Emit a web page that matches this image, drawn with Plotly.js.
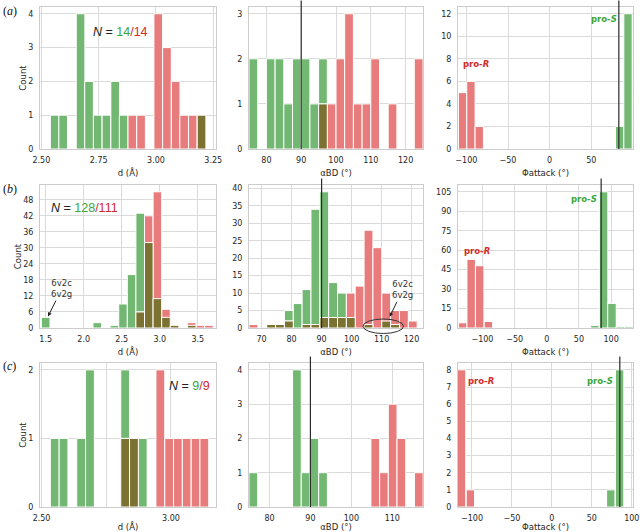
<!DOCTYPE html>
<html><head><meta charset="utf-8">
<script src="https://cdn.plot.ly/plotly-3.0.1.min.js"></script>
<style>html,body{margin:0;padding:0;background:#fff}#chart{width:640px;height:532px}</style>
</head><body><div id="chart"></div>
<script>
// ================= DATA =================
// Row (a)
const a1_bins  = [2.558,2.595,2.633,2.671,2.708,2.746,2.784,2.822,2.859,2.897,2.935,2.972,3.010,3.048,3.086,3.123,3.161,3.199];
const a1_green = [1,1,0,4,2,1,1,2,1,0,0,0,0,0,0,0,0,1];
const a1_red   = [0,0,0,0,0,0,0,0,0,1,1,0,4,3,2,1,1,1];

const a2_bins  = [76.25,78.75,81.25,83.75,86.25,88.75,91.25,93.75,96.25,98.75,101.25,103.75,106.25,108.75,111.25,113.75,116.25,118.75,121.25,123.75];
const a2_green = [2,0,2,2,1,2,2,1,2,0,0,0,0,0,0,0,0,0,0,0];
const a2_red   = [0,0,0,0,0,0,0,0,1,1,2,3,1,1,2,0,1,0,0,2];

const a3_red_bins   = [-104.5,-94.5,-84.5];
const a3_red        = [5,6,2];
const a3_green_bins = [84,94];
const a3_green      = [2,12];

// Row (b)
const b1_bins  = [1.500,1.613,1.726,1.839,1.952,2.065,2.178,2.291,2.404,2.517,2.630,2.743,2.856,2.969,3.082,3.195,3.308,3.421,3.534,3.647];
const b1_green = [4,0,0,0,0,0,2,0,1,9,20,43,32,11,4,1,0,1,0,0];
const b1_red   = [0,0,0,0,0,0,0,0,0,0,0,6,42,51,7,1,0,2,1,1];

const b2_bins  = [67.28,70.23,73.18,76.13,79.08,82.03,84.98,87.93,90.88,93.83,96.78,99.73,102.68,105.63,108.58,111.53,114.48,117.43,120.38];
const b2_green = [0,0,1,1,5,7,11,34,39,13,10,3,0,1,0,2,1,0,0];
const b2_red   = [1,0,1,1,2,0,1,1,3,3,3,10,12,28,23,10,5,5,2];

const b3_red_bins   = [-130.5,-117.5,-104.3,-90.7];
const b3_red        = [4,53,48,5];
const b3_green_bins = [74.8,88.3,101.3,114.3,127.4];
const b3_green      = [2,105,19,1,1];

// Row (c)
const c1_bins  = [2.551,2.585,2.619,2.653,2.687,2.721,2.755,2.789,2.823,2.857,2.891,2.925,2.959,2.993,3.027,3.061,3.095,3.129];
const c1_green = [1,1,0,1,2,0,0,0,2,1,1,0,0,0,0,0,0,0];
const c1_red   = [0,0,0,0,0,0,0,0,1,1,0,0,2,1,1,1,1,1];

const c2_bins  = [76.06,78.19,80.32,82.44,84.57,86.70,88.82,90.95,93.08,95.20,97.33,99.46,101.59,103.71,105.84,107.97,110.09,112.22,114.35,116.47];
const c2_green = [1,0,0,0,0,4,1,2,1,0,0,0,0,0,0,0,0,0,0,0];
const c2_red   = [0,0,0,0,0,0,0,0,0,0,0,0,0,0,2,1,3,2,0,1];

const c3_red_bins   = [-113,-102];
const c3_red        = [8,1];
const c3_green_bins = [73.7,84.8];
const c3_green      = [1,8];

// reference lines
const refAlpha = [90, 90, 90];
const refPhi   = [83, 84.5, 85];

// tick labels
const dTicksA = [2.50,2.75,3.00,3.25], dTextA = ['2.50','2.75','3.00','3.25'];
const dTicksB = [1.5,2.0,2.5,3.0,3.5],  dTextB = ['1.5','2.0','2.5','3.0','3.5'];
const dTicksC = [2.50,2.75,3.00],       dTextC = ['2.50','','3.00'];

// ================= STYLE =================
const GREEN = '#72b872', RED = '#e87b7b', OLIVE = '#7b7232';
const TGREEN = '#3aa63a', TRED = '#d42a2a';
const FONT = 'DejaVu Sans, sans-serif';
const W = 640, H = 532;
const px = x => x / W, py = y => 1 - y / H;
const colX = [[40,216],[249,423],[458,633]];
const rowY = [[7,149],[185,328],[363,507]];

const traces = [];
function nz(a){ return a.map(v => v === 0 ? null : v); }
function bar(n, x, y, w, color){
  traces.push({type:'bar', x:x, y:nz(y), width:w, marker:{color:color, line:{color:'white', width:1}},
    xaxis: n===1?'x':'x'+n, yaxis: n===1?'y':'y'+n, hoverinfo:'skip', showlegend:false});
}
function common(n, bins, g, r, w){
  bar(n, bins, g, w, GREEN);
  bar(n, bins, r, w, RED);
  bar(n, bins, g.map((v,i)=>Math.min(v, r[i])), w, OLIVE);
}
common(1, a1_bins, a1_green, a1_red, 0.0377);
common(2, a2_bins, a2_green, a2_red, 2.5);
bar(3, a3_red_bins, a3_red, 10, RED); bar(3, a3_green_bins, a3_green, 10, GREEN);
common(4, b1_bins, b1_green, b1_red, 0.113);
common(5, b2_bins, b2_green, b2_red, 2.95);
bar(6, b3_red_bins, b3_red, 13.2, RED); bar(6, b3_green_bins, b3_green, 13.2, GREEN);
common(7, c1_bins, c1_green, c1_red, 0.034);
common(8, c2_bins, c2_green, c2_red, 2.127);
bar(9, c3_red_bins, c3_red, 10.4, RED); bar(9, c3_green_bins, c3_green, 10.4, GREEN);

const layout = {width:W, height:H, margin:{l:0,r:0,t:0,b:0}, barmode:'overlay',
  paper_bgcolor:'#fff', plot_bgcolor:'#fff', showlegend:false, font:{family:FONT, color:'#262626'},
  shapes:[], annotations:[]};

const xspec = [
  {range:[2.494,3.262], tickvals:dTicksA, ticktext:dTextA, title:'d (Å)'},
  {range:[75,125], tickvals:[80,90,100,110,120], title:'αBD (°)'},
  {range:[-110,100], tickvals:[-100,-50,0,50,100], title:'Φattack (°)'},
  {range:[1.425,3.74], tickvals:dTicksB, ticktext:dTextB, title:'d (Å)'},
  {range:[65.8,123.8], tickvals:[70,80,90,100,110,120], title:'αBD (°)'},
  {range:[-138,134], tickvals:[-100,-50,0,50,100], title:'Φattack (°)'},
  {range:[2.494,3.174], tickvals:dTicksC, ticktext:dTextC, title:'d (Å)'},
  {range:[75,117.5], tickvals:[80,90,100,110], title:'αBD (°)'},
  {range:[-117.5,101.5], tickvals:[-100,-50,0,50,100], title:'Φattack (°)'}
];
const yspec = [
  {range:[0,4.2], dtick:1}, {range:[0,3.15], dtick:1}, {range:[0,12.6], dtick:2},
  {range:[0,53.55], dtick:6}, {range:[0,40.95], dtick:5}, {range:[0,110.25], dtick:15},
  {range:[0,2.1], dtick:1}, {range:[0,4.2], dtick:1}, {range:[0,8.4], dtick:1}
];
const axCommon = {showgrid:true, gridcolor:'#dadada', gridwidth:1, showline:true, mirror:true,
  linecolor:'#cccccc', linewidth:1, zeroline:false, fixedrange:true,
  tickfont:{family:FONT, size:8, color:'#262626'}};

for(let i=0;i<9;i++){
  const n=i+1, r=Math.floor(i/3), c=i%3;
  const xs = xspec[i], ys = yspec[i];
  const xa = Object.assign({}, axCommon, {
    domain:[px(colX[c][0]), px(colX[c][1])], range:xs.range, anchor: n===1?'y':'y'+n,
    tickmode:'array', tickvals:xs.tickvals, ticks:'outside', ticklen:3, tickcolor:'rgba(0,0,0,0)',
    title:{text:xs.title, font:{family:FONT, size:8.5, color:'#262626'}, standoff:6}});
  if(xs.ticktext) xa.ticktext = xs.ticktext;
  const ya = Object.assign({}, axCommon, {
    domain:[py(rowY[r][1]), py(rowY[r][0])], range:ys.range, anchor: n===1?'x':'x'+n,
    tick0:0, dtick:ys.dtick, ticks:'outside', ticklen:4, tickcolor:'rgba(0,0,0,0)'});
  if(c===0) ya.title = {text:'Count', font:{family:FONT, size:8.5, color:'#262626'}, standoff:0};
  layout[n===1?'xaxis':'xaxis'+n] = xa;
  layout[n===1?'yaxis':'yaxis'+n] = ya;
}

// vertical reference lines
[[2,refAlpha[0]],[5,refAlpha[1]],[8,refAlpha[2]],[3,refPhi[0]],[6,refPhi[1]],[9,refPhi[2]]].forEach(([n,v])=>{
  layout.shapes.push({type:'line', xref:'x'+n, yref:'y'+n+' domain', x0:v, x1:v, y0:0, y1:1.045,
    line:{color:'#2a2a2a', width:1.2}, layer:'above'});
});
// ellipse in (b) alpha panel
layout.shapes.push({type:'circle', xref:'x5', yref:'paper', x0:103.8, x1:117.3, y0:py(333.5), y1:py(319),
  line:{color:'#333', width:1}, layer:'above'});

function ann(o){ layout.annotations.push(Object.assign({xref:'paper', yref:'paper', showarrow:false,
  xanchor:'center', yanchor:'middle'}, o)); }
const NF = {family:'Liberation Sans, Arial, sans-serif', size:12.5, color:'#222'};
function ntext(g, r){ return '<i>N</i> = <span style="color:'+TGREEN+'">'+g+'</span><span style="color:'+TRED+'">/'+r+'</span>'; }
ann({x:px(120), y:py(32), text:ntext(14,14), font:NF});
ann({x:px(84), y:py(208), text:ntext(128,111), font:NF});
ann({x:px(189), y:py(386), text:ntext(9,9), font:NF});

const PF = {family:FONT, size:8.5};
function pro(x, y, letter, color){
  ann({x:px(x), y:py(y), text:'<b>pro-<i>'+letter+'</i></b>', font:Object.assign({color:color}, PF)});
}
pro(604,19,'S',TGREEN); pro(476,64,'R',TRED);
pro(584,199,'S',TGREEN); pro(477,251,'R',TRED);
pro(600,381,'S',TGREEN); pro(481,381,'R',TRED);

const LF = {family:'Liberation Serif, DejaVu Serif, serif', size:12, color:'#111'};
ann({x:px(1), y:py(11), xanchor:'left', text:'(<i>a</i>)', font:LF});
ann({x:px(1), y:py(189), xanchor:'left', text:'(<i>b</i>)', font:LF});
ann({x:px(1), y:py(366), xanchor:'left', text:'(<i>c</i>)', font:LF});

// arrows "6v2c / 6v2g"
const AF = {family:FONT, size:8.5, color:'#333'};
layout.annotations.push({xref:'x4', yref:'y4', x:1.53, y:4.3, ax:14, ay:-28, text:'6v2c<br>6v2g',
  showarrow:true, arrowhead:2, arrowsize:0.8, arrowwidth:1, arrowcolor:'#222', font:AF});
layout.annotations.push({xref:'x5', yref:'y5', x:112.7, y:3.2, ax:13, ay:-27, text:'6v2c<br>6v2g',
  showarrow:true, arrowhead:2, arrowsize:0.8, arrowwidth:1, arrowcolor:'#222', font:AF});

Plotly.newPlot('chart', traces, layout, {staticPlot:true, displayModeBar:false});
</script></body></html>
